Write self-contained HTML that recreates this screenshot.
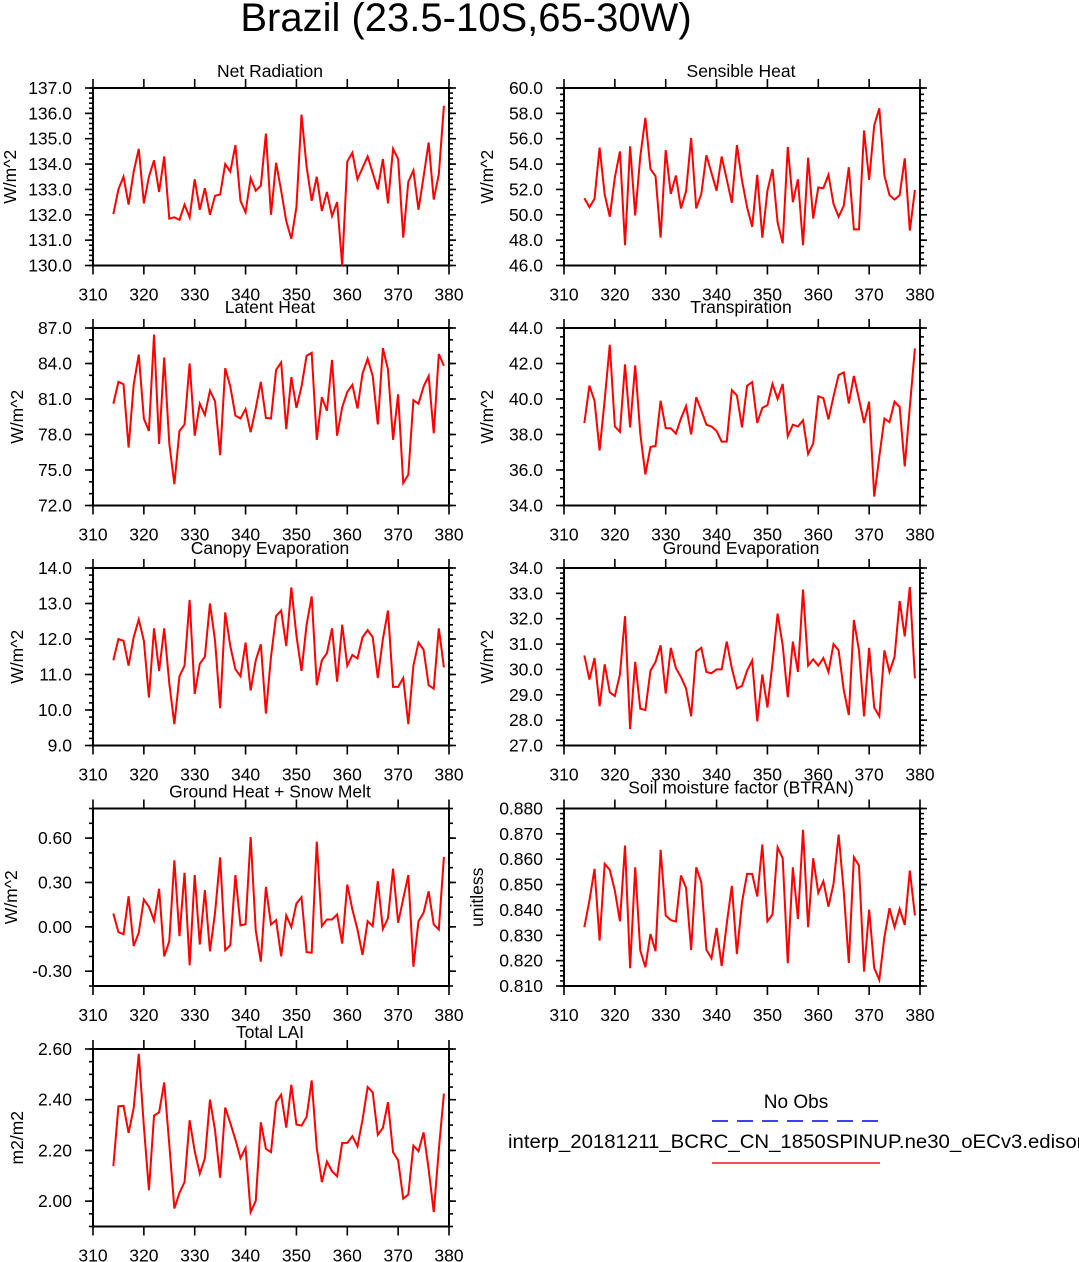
<!DOCTYPE html>
<html><head><meta charset="utf-8"><style>
html,body{margin:0;padding:0;background:#fff;}
svg{display:block;font-family:"Liberation Sans",Arial,sans-serif;}
</style></head><body>
<svg id="chart" width="1079" height="1262" viewBox="0 0 1079 1262">
<text x="466" y="31" font-size="40" text-anchor="middle">Brazil (23.5-10S,65-30W)</text>
<g>
<text x="796" y="1108" font-size="19" text-anchor="middle">No Obs</text>
<line x1="712" y1="1121" x2="880" y2="1121" stroke="#0000ee" stroke-width="1.5" stroke-dasharray="16,9"/>
<text x="508" y="1148" font-size="19.5" textLength="580" lengthAdjust="spacingAndGlyphs">interp_20181211_BCRC_CN_1850SPINUP.ne30_oECv3.edison</text>
<line x1="712" y1="1163" x2="880" y2="1163" stroke="#f05050" stroke-width="2"/>
</g>
</svg>
<script>
const years = [];
for (let y = 314; y <= 379; y++) years.push(y);
const xTicks = [310,320,330,340,350,360,370,380];
const netRad = [132.03,133.0,133.5,132.4,133.7,134.6,132.45,133.5,134.15,132.9,134.3,131.85,131.9,131.8,132.4,131.9,133.4,132.2,133.05,132.0,132.75,132.8,134.0,133.7,134.75,132.55,132.1,133.45,132.95,133.15,135.2,132.0,134.05,132.95,131.75,131.05,132.3,135.95,133.9,132.55,133.5,132.15,132.9,131.95,132.5,130.0,134.1,134.45,133.4,133.85,134.3,133.65,133.0,134.2,132.45,134.6,134.2,131.1,133.3,133.75,132.2,133.5,134.85,132.6,133.6,136.3];
const sensible = [51.3,50.6,51.25,55.3,51.6,49.85,52.95,55.0,47.6,55.4,49.95,54.6,57.65,53.6,53.05,48.2,55.1,51.65,53.1,50.5,51.85,56.05,50.5,51.65,54.7,53.3,51.9,54.6,52.8,50.95,55.5,52.7,50.6,49.05,53.15,48.2,51.9,53.6,49.4,47.75,55.35,51.0,52.8,47.6,54.5,49.7,52.15,52.1,53.15,50.85,49.85,50.7,53.75,48.85,48.85,56.65,52.75,57.05,58.4,53.1,51.55,51.2,51.55,54.45,48.75,51.95];
const latent = [80.6,82.45,82.25,76.9,82.2,84.75,79.35,78.3,86.45,77.2,84.5,77.25,73.8,78.3,78.85,84.0,77.9,80.6,79.65,81.7,80.8,76.25,83.6,82.05,79.6,79.35,80.15,78.2,80.2,82.45,79.4,79.35,83.45,84.1,78.45,82.85,80.25,82.05,84.65,84.9,77.55,81.15,80.0,84.3,77.9,80.3,81.6,82.2,80.2,83.15,84.4,82.95,78.85,85.3,83.5,77.55,81.4,73.9,74.6,80.9,80.6,82.05,82.95,78.1,84.8,83.8];
const transp = [38.65,40.75,39.9,37.1,39.95,43.05,38.45,38.15,41.95,38.4,41.9,38.05,35.75,37.3,37.35,39.9,38.35,38.35,38.05,38.9,39.6,38.0,40.1,39.35,38.55,38.45,38.2,37.6,37.6,40.5,40.2,38.4,40.75,40.95,38.65,39.5,39.65,40.85,40.0,40.85,37.9,38.55,38.45,38.8,36.9,37.5,40.15,40.05,38.85,40.15,41.35,41.5,39.75,41.3,40.0,38.65,39.85,34.5,36.75,38.9,38.7,39.85,39.55,36.2,39.55,42.85];
const canopy = [11.4,12.0,11.95,11.25,12.05,12.55,11.95,10.35,12.3,11.1,12.3,10.75,9.6,10.95,11.25,13.1,10.45,11.3,11.5,13.0,11.95,10.05,12.75,11.8,11.15,10.95,11.9,10.55,11.4,11.85,9.9,11.5,12.65,12.8,11.8,13.45,12.1,11.1,12.4,13.2,10.7,11.4,11.6,12.3,10.8,12.4,11.25,11.55,11.45,12.05,12.25,12.05,10.9,12.0,12.8,10.65,10.65,10.9,9.6,11.25,11.9,11.7,10.7,10.6,12.3,11.2];
const groundEvap = [30.55,29.6,30.45,28.55,30.2,29.1,28.95,29.8,32.1,27.65,30.3,28.45,28.4,29.95,30.3,30.95,29.05,30.85,30.05,29.7,29.25,28.15,30.7,30.85,29.9,29.85,30.0,30.0,31.1,30.05,29.25,29.35,29.95,30.35,27.95,29.8,28.5,30.25,32.2,30.95,28.9,31.1,29.9,33.15,30.15,30.4,30.15,30.45,29.9,31.0,30.75,29.2,28.2,31.95,30.75,28.15,30.85,28.5,28.15,30.75,29.9,30.5,32.7,31.3,33.25,29.65];
const groundHeat = [0.09,-0.036,-0.05,0.207,-0.13,-0.04,0.185,0.135,0.043,0.257,-0.2,-0.097,0.45,-0.063,0.365,-0.26,0.35,-0.12,0.248,-0.165,0.095,0.47,-0.158,-0.124,0.35,0.01,0.018,0.607,-0.023,-0.236,0.27,0.016,0.045,-0.2,0.077,-0.002,0.158,0.2,-0.171,-0.175,0.576,0.005,0.05,0.05,0.083,-0.113,0.286,0.117,-0.018,-0.19,0.038,0.005,0.308,-0.014,0.058,0.394,0.027,0.19,0.35,-0.27,0.038,0.095,0.24,0.016,-0.018,0.473];
const btran = [0.8332,0.8437,0.8562,0.8279,0.8582,0.8558,0.8476,0.8355,0.8654,0.817,0.8568,0.824,0.8174,0.8305,0.8237,0.8637,0.8378,0.836,0.8354,0.8536,0.8487,0.8242,0.8568,0.8509,0.8243,0.8209,0.8329,0.8179,0.8345,0.8495,0.8226,0.843,0.8542,0.8542,0.8453,0.8658,0.8355,0.8382,0.8647,0.8604,0.819,0.8568,0.8364,0.8716,0.8332,0.8604,0.8467,0.8513,0.8413,0.8503,0.8697,0.8476,0.8191,0.8608,0.8575,0.8157,0.8401,0.8171,0.8124,0.8292,0.8407,0.8332,0.8404,0.8341,0.8555,0.8378];
const lai = [2.138,2.374,2.376,2.269,2.367,2.581,2.295,2.043,2.337,2.35,2.468,2.223,1.971,2.033,2.075,2.319,2.197,2.109,2.169,2.4,2.279,2.092,2.369,2.308,2.243,2.17,2.21,1.957,2.001,2.311,2.206,2.193,2.39,2.42,2.29,2.459,2.302,2.298,2.332,2.476,2.21,2.075,2.156,2.118,2.098,2.23,2.23,2.256,2.216,2.321,2.45,2.429,2.262,2.289,2.39,2.193,2.161,2.01,2.026,2.219,2.197,2.271,2.125,1.957,2.203,2.424];

const NS = "http://www.w3.org/2000/svg";
const svg = document.getElementById('chart');
function mk(tag, attrs, parent) {
  const e = document.createElementNS(NS, tag);
  for (const k in attrs) e.setAttribute(k, attrs[k]);
  parent.appendChild(e);
  return e;
}
const panels = [
  {key:'net-radiation', title:'Net Radiation', ylab:'W/m^2', data:netRad, min:130, max:137, major:1, minor:0.2, dec:1, col:0, row:0, tx:10},
  {key:'sensible-heat', title:'Sensible Heat', ylab:'W/m^2', data:sensible, min:46, max:60, major:2, minor:0.5, dec:1, col:1, row:0, tx:487},
  {key:'latent-heat', title:'Latent Heat', ylab:'W/m^2', data:latent, min:72, max:87, major:3, minor:1, dec:1, col:0, row:1, tx:17, ty:-4},
  {key:'transpiration', title:'Transpiration', ylab:'W/m^2', data:transp, min:34, max:44, major:2, minor:0.5, dec:1, col:1, row:1, tx:487, ty:-4},
  {key:'canopy-evaporation', title:'Canopy Evaporation', ylab:'W/m^2', data:canopy, min:9, max:14, major:1, minor:0.2, dec:1, col:0, row:2, tx:17, ty:-3},
  {key:'ground-evaporation', title:'Ground Evaporation', ylab:'W/m^2', data:groundEvap, min:27, max:34, major:1, minor:0.2, dec:1, col:1, row:2, tx:487, ty:-3},
  {key:'ground-heat', title:'Ground Heat + Snow Melt', ylab:'W/m^2', data:groundHeat, min:-0.4, max:0.8, major:0.3, minor:0.1, dec:2, col:0, row:3, tx:11, tickStart:-0.3, tickEnd:0.6},
  {key:'btran', title:'Soil moisture factor (BTRAN)', ylab:'unitless', data:btran, min:0.81, max:0.88, major:0.01, minor:0.002, dec:3, col:1, row:3, tx:477, ty:-4},
  {key:'total-lai', title:'Total LAI', ylab:'m2/m2', data:lai, min:1.9, max:2.6, major:0.2, minor:0.05, dec:2, col:0, row:4, tx:17, tickStart:2.0, tickEnd:2.6}
];
const colX = [93, 564], W = 356, H = 177.5;
const rowY = [88, 328, 568, 808.5, 1049];
const FS = 17.5;

panels.forEach(p => {
  const L = colX[p.col], T = rowY[p.row], R = L + W, B = T + H;
  const g = mk('g', {}, svg);
  
  
  const xs = v => L + (v - 310) / 70 * W;
  const ys = v => B - (v - p.min) / (p.max - p.min) * H;
  const t = mk('text', {x: L + W/2 - 1, y: T - 11 + (p.ty||0), 'font-size': FS, 'text-anchor':'middle'}, g);
  
  
  t.textContent = p.title;
  const yl = mk('text', {x: p.tx, y: T + H/2, 'font-size': FS, 'text-anchor':'middle', 'dominant-baseline':'central', transform:`rotate(-90 ${p.tx} ${T+H/2})`}, g);
  
  
  yl.textContent = p.ylab;
  const tk = mk('g', {stroke:'#000', 'stroke-width':1.6}, g);
  
  
  const nMin = Math.round((p.max - p.min) / p.minor);
  for (let i = 0; i <= nMin; i++) {
    const v = p.min + i * p.minor, y = ys(v);
    mk('line', {x1:L-4, y1:y, x2:L, y2:y}, tk);
    mk('line', {x1:R, y1:y, x2:R+4, y2:y}, tk);
  }
  const s = p.tickStart !== undefined ? p.tickStart : p.min;
  const e = p.tickEnd !== undefined ? p.tickEnd : p.max;
  const nMaj = Math.round((e - s) / p.major);
  for (let i = 0; i <= nMaj; i++) {
    const v = s + i * p.major, y = ys(v);
    mk('line', {x1:L-8, y1:y, x2:L, y2:y}, tk);
    mk('line', {x1:R, y1:y, x2:R+7, y2:y}, tk);
    const lb = mk('text', {x: L - 21, y: y, 'font-size': FS, 'text-anchor':'end', 'dominant-baseline':'central', stroke:'none'}, g);
    
    
    lb.textContent = Math.abs(v) < 1e-9 ? (0).toFixed(p.dec) : v.toFixed(p.dec);
  }
  xTicks.forEach(v => {
    const x = xs(v);
    mk('line', {x1:x, y1:T-9, x2:x, y2:T}, tk);
    mk('line', {x1:x, y1:B, x2:x, y2:B+9}, tk);
    const lb = mk('text', {x: x, y: B + 35, 'font-size': FS, 'text-anchor':'middle'}, g);
    
    
    lb.textContent = v;
  });
  const fr = mk('rect', {x:L, y:T, width:W, height:H, fill:'none', stroke:'#000', 'stroke-width':2}, g);
  
  
  const pts = p.data.map((v, i) => xs(years[i]).toFixed(2) + ',' + ys(v).toFixed(2)).join(' ');
  const line = mk('polyline', {points: pts, fill:'none', stroke:'#ff0000', 'stroke-width':2, 'stroke-linejoin':'miter'}, g);
  
  
});
</script>
</body></html>
